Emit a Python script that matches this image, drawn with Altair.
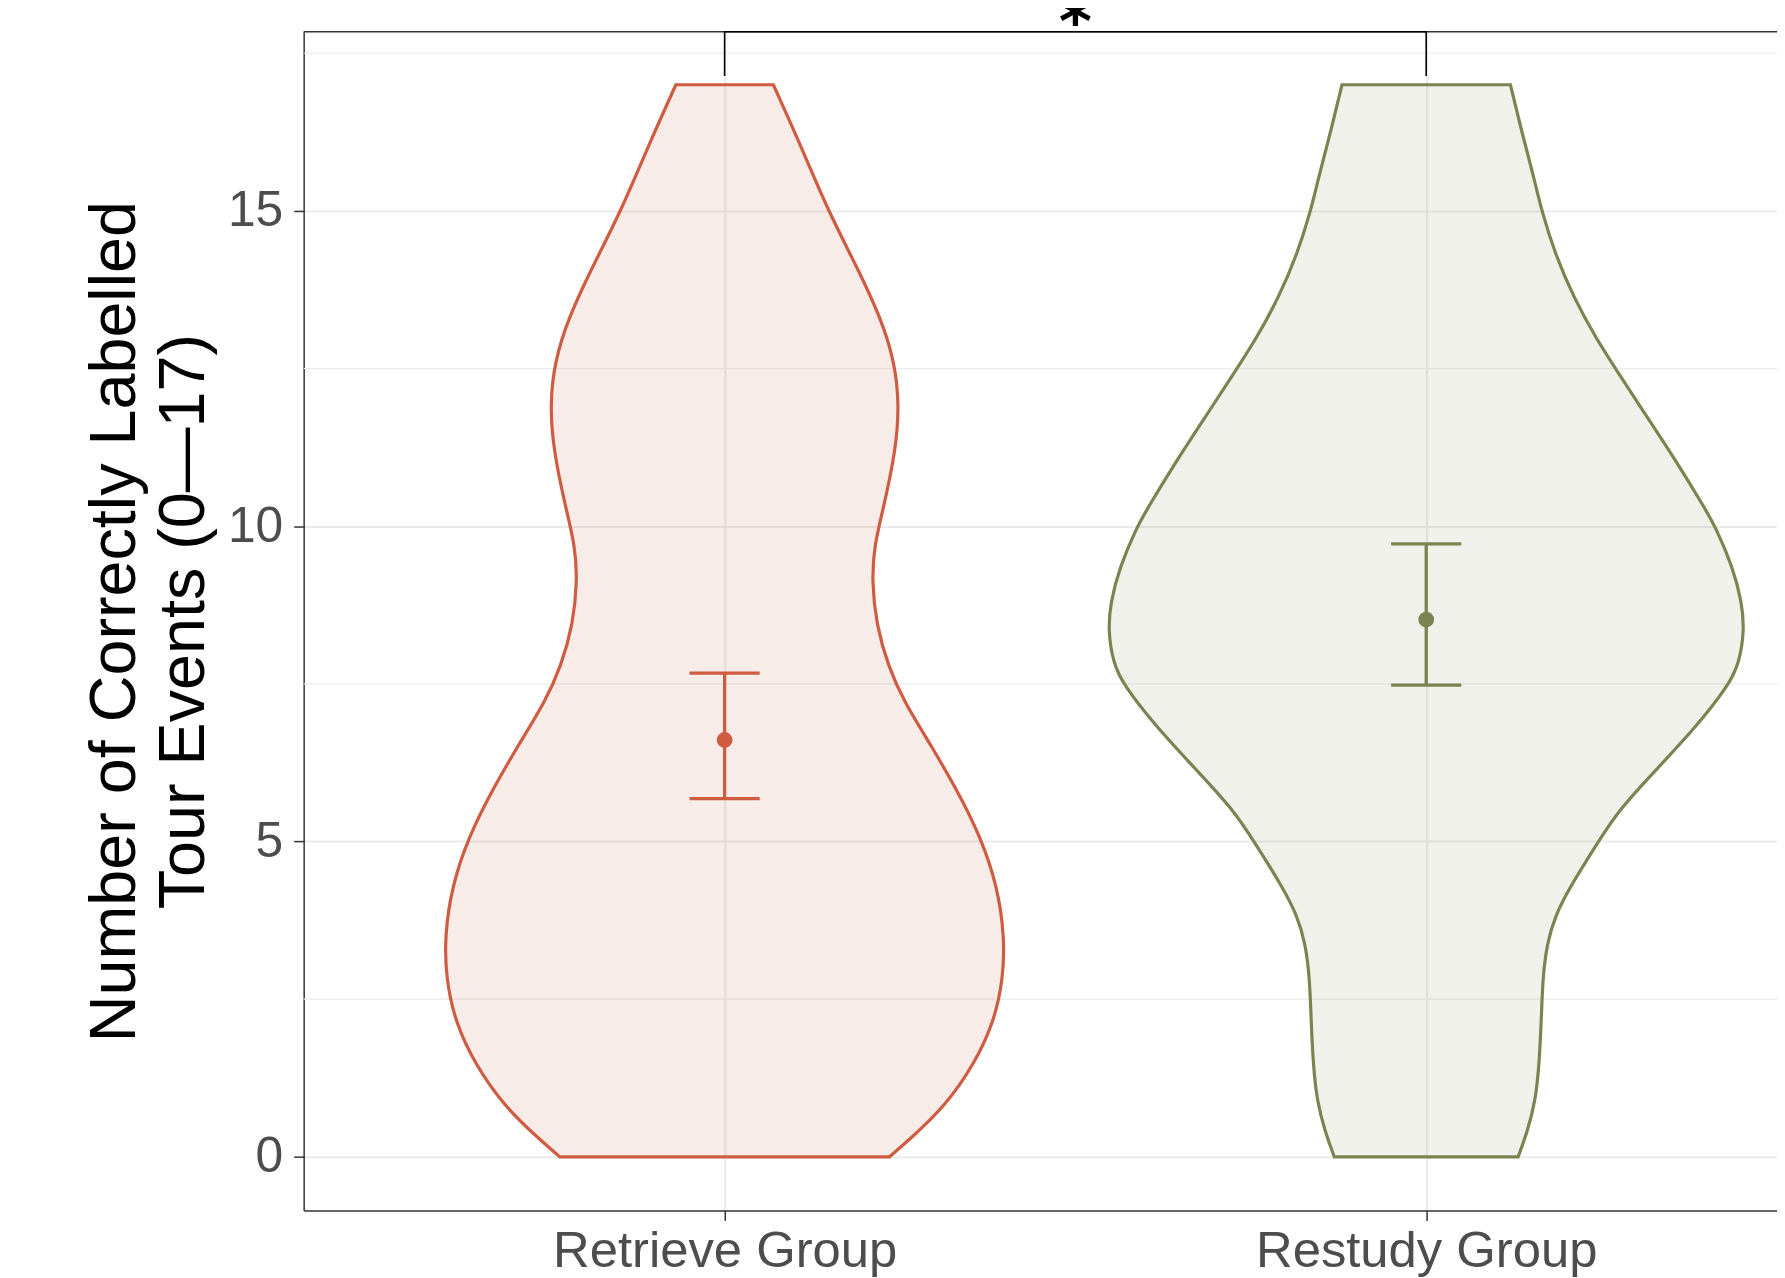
import altair as alt
import pandas as pd

# ---------------- data ----------------
groups = ["Retrieve Group", "Restudy Group"]
group_pos = [1, 2]

# violin outlines: score value and half-width (in x-axis units)
retrieve_y = [0, 0.34, 0.79, 1.47, 2.14, 2.82, 3.49, 4.28, 5.07, 5.80, 6.53, 7.21, 7.78,
              8.45, 9.13, 9.69, 10.36, 11.21, 11.94, 12.62, 13.29, 14.08, 15.0, 16.0, 17.0]
retrieve_hw = [0.235, 0.270, 0.313, 0.356, 0.384, 0.397, 0.399, 0.389, 0.365, 0.332, 0.294,
               0.256, 0.233, 0.216, 0.210, 0.213, 0.228, 0.244, 0.249, 0.242, 0.223, 0.190,
               0.1475, 0.110, 0.0695]

restudy_y = [0, 0.39, 0.90, 1.47, 2.14, 2.82, 3.38, 3.83, 4.28, 4.96, 5.52, 6.14, 6.82, 7.49,
             7.83, 8.34, 8.79, 9.35, 9.97, 10.25, 11.04, 11.83, 12.48, 12.96, 13.63, 14.31,
             14.98, 15.55, 16.22, 17.0]
restudy_hw = [0.131, 0.144, 0.156, 0.161, 0.164, 0.166, 0.172, 0.184, 0.205, 0.243, 0.276,
              0.328, 0.385, 0.432, 0.446, 0.4535, 0.450, 0.437, 0.413, 0.399, 0.356, 0.309,
              0.271, 0.243, 0.210, 0.184, 0.165, 0.153, 0.137, 0.120]

means = [6.61, 8.52]
ci_lower = [5.68, 7.48]
ci_upper = [7.67, 9.72]

bracket_x = [1, 1, 2, 2]
bracket_y = [17.14, 17.84, 17.84, 17.14]
sig_label = "*"
sig_x = 1.5

y_major = [0, 5, 10, 15]
y_minor = [2.5, 7.5, 12.5, 17.5]
y_title = ["Number of Correctly Labelled", "Tour Events (0\u201417)"]

# ---------------- styling ----------------
stroke_colors = ["#CF5B41", "#7A8450"]
fill_colors = ["#BC613F", "#828A58"]
W, H = 1480, 1184
FONT = "Liberation Sans"
CAP = 0.05

xscale = alt.Scale(domain=[0.4, 2.5], nice=False, zero=False)
yscale = alt.Scale(domain=[-0.85, 17.84], nice=False, zero=False)

yaxis = alt.Axis(
    values=y_major, format="d",
    labelFont=FONT, labelFontSize=50, labelColor="#4D4D4D", labelPadding=11,
    labelFlush=False, labelOverlap=False, labelLimit=0,
    tickColor="#333333", tickWidth=1.5, tickSize=10,
    domainColor="#333333", domainWidth=1.5,
    grid=True, gridColor="#EBEBEB", gridWidth=2,
    title=y_title, titleFont=FONT, titleFontSize=65, titleFontWeight="normal",
    titleColor="#000000", titleAngle=270, titleAlign="center", titleBaseline="middle",
    titleLineHeight=69, titleX=-190, titleY=H / 2, titleLimit=0,
)
xaxis = alt.Axis(
    values=group_pos,
    labelExpr=f"datum.value == 1 ? '{groups[0]}' : '{groups[1]}'",
    labelFont=FONT, labelFontSize=51, labelColor="#4D4D4D", labelPadding=6,
    labelFlush=False, labelOverlap=False, labelLimit=0,
    tickColor="#333333", tickWidth=1.5, tickSize=10,
    domainColor="#333333", domainWidth=1.5,
    grid=True, gridColor="#EBEBEB", gridWidth=2,
    title="",
)


def X(field):
    return alt.X(field, scale=xscale, axis=xaxis)


def Y(field):
    return alt.Y(field, scale=yscale, axis=yaxis)


# minor gridlines (drawn under everything)
minor = alt.Chart(pd.DataFrame({"m": y_minor})).mark_rule(
    color="#EBEBEB", strokeWidth=1.1
).encode(y=Y("m:Q"), x=alt.value(0), x2=alt.value(W))

layers = [minor]

for g, p, ys, hws, sc, fc in [
    (groups[0], group_pos[0], retrieve_y, retrieve_hw, stroke_colors[0], fill_colors[0]),
    (groups[1], group_pos[1], restudy_y, restudy_hw, stroke_colors[1], fill_colors[1]),
]:
    df = pd.DataFrame({"score": ys, "lo": [p - h for h in hws], "hi": [p + h for h in hws]})
    area = alt.Chart(df).mark_area(
        orient="horizontal", interpolate="basis",
        color=fc, fillOpacity=0.12, stroke=sc, strokeWidth=3.2, strokeOpacity=1,
    ).encode(y=Y("score:Q"), x=X("lo:Q"), x2="hi:Q")
    layers.append(area)

stats_df = pd.DataFrame({"grp": groups, "pos": group_pos, "mean": means,
                         "lower": ci_lower, "upper": ci_upper})
cscale = alt.Scale(domain=groups, range=stroke_colors)
base = alt.Chart(stats_df)
err = base.mark_rule(strokeWidth=3.3).encode(
    x=X("pos:Q"), y=Y("lower:Q"), y2="upper:Q",
    color=alt.Color("grp:N", scale=cscale, legend=None),
)
caps = base.transform_fold(["lower", "upper"], as_=["end", "yv"]).transform_calculate(
    xl=f"datum.pos - {CAP}", xr=f"datum.pos + {CAP}"
).mark_rule(strokeWidth=3.3).encode(
    x=X("xl:Q"), x2="xr:Q", y=Y("yv:Q"),
    color=alt.Color("grp:N", scale=cscale, legend=None),
)
pts = base.mark_circle(size=250, opacity=1).encode(
    x=X("pos:Q"), y=Y("mean:Q"),
    color=alt.Color("grp:N", scale=cscale, legend=None),
)

top_border = alt.Chart(pd.DataFrame({"a": [0]})).mark_rule(
    color="#333333", strokeWidth=1.5
).encode(x=alt.value(0), x2=alt.value(W), y=alt.value(0))

bracket_df = pd.DataFrame({"bx": bracket_x, "by": bracket_y, "i": list(range(len(bracket_x)))})
bracket = alt.Chart(bracket_df).mark_line(color="#000000", strokeWidth=1.6).encode(
    x=X("bx:Q"), y=Y("by:Q"), order=alt.Order("i:Q"),
)

star = alt.Chart(pd.DataFrame({"t": [sig_label], "sx": [sig_x]})).mark_text(
    fontSize=64, fontWeight="bold", font="DejaVu Sans", baseline="alphabetic",
    align="center", color="#000000"
).encode(x=X("sx:Q"), y=alt.value(12), text="t:N")

layers += [err, caps, pts, top_border, bracket, star]

chart = alt.layer(*layers).properties(
    width=W, height=H,
    autosize=alt.AutoSizeParams(type="none"),
    padding={"left": 297, "top": 21, "right": 0, "bottom": 65},
    background="white",
).configure_view(stroke=None)

chart.save("out.html", embed_options={"renderer": "svg", "actions": False})
